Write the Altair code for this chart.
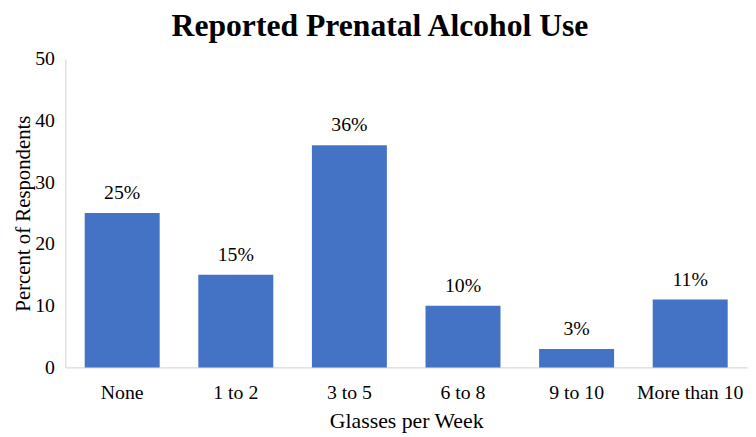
import altair as alt
import pandas as pd

categories = ["None", "1 to 2", "3 to 5", "6 to 8", "9 to 10", "More than 10"]
values = [25, 15, 36, 10, 3, 11]
labels = ["25%", "15%", "36%", "10%", "3%", "11%"]

df = pd.DataFrame({"cat": categories, "val": values, "lab": labels})

FONT = "Liberation Serif, Times New Roman, serif"

x = alt.X("cat:N", sort=categories, title="Glasses per Week",
          scale=alt.Scale(paddingInner=0.34, paddingOuter=0.17),
          axis=alt.Axis(labelAngle=0, ticks=False, domainColor="#d9d9d9", domainWidth=1.2,
                        labelPadding=15, titlePadding=9))
y = alt.Y("val:Q", title="Percent of Respondents",
          scale=alt.Scale(domain=[0, 50]),
          axis=alt.Axis(values=[0, 10, 20, 30, 40, 50], grid=False, ticks=False,
                        domainColor="#d9d9d9", domainWidth=1.2, labelPadding=11,
                        titlePadding=1, titleFontSize=21))

bars = alt.Chart(df).mark_bar(color="#4472C4").encode(x=x, y=y)
text = alt.Chart(df).mark_text(font=FONT, fontSize=20, baseline="alphabetic", dy=-14,
                               color="#000").encode(
    x=alt.X("cat:N", sort=categories), y="val:Q", text="lab:N")

chart = (bars + text).properties(
    width=689, height=312,
    autosize=alt.AutoSizeParams(type="none"),
    padding={"left": 58, "top": 49, "right": 1, "bottom": 68},
    title=alt.TitleParams("Reported Prenatal Alcohol Use", fontSize=32,
                          fontWeight="bold", color="#000", anchor="middle",
                          frame="bounds", offset=0, dy=-6),
).configure(font=FONT).configure_axis(
    labelFont=FONT, titleFont=FONT, labelFontSize=20, titleFontSize=22,
    labelColor="#000", titleColor="#000", titleFontWeight="normal"
).configure_title(font=FONT).configure_view(stroke=None)

chart.save("out.html", embed_options={"renderer": "svg", "actions": False})
